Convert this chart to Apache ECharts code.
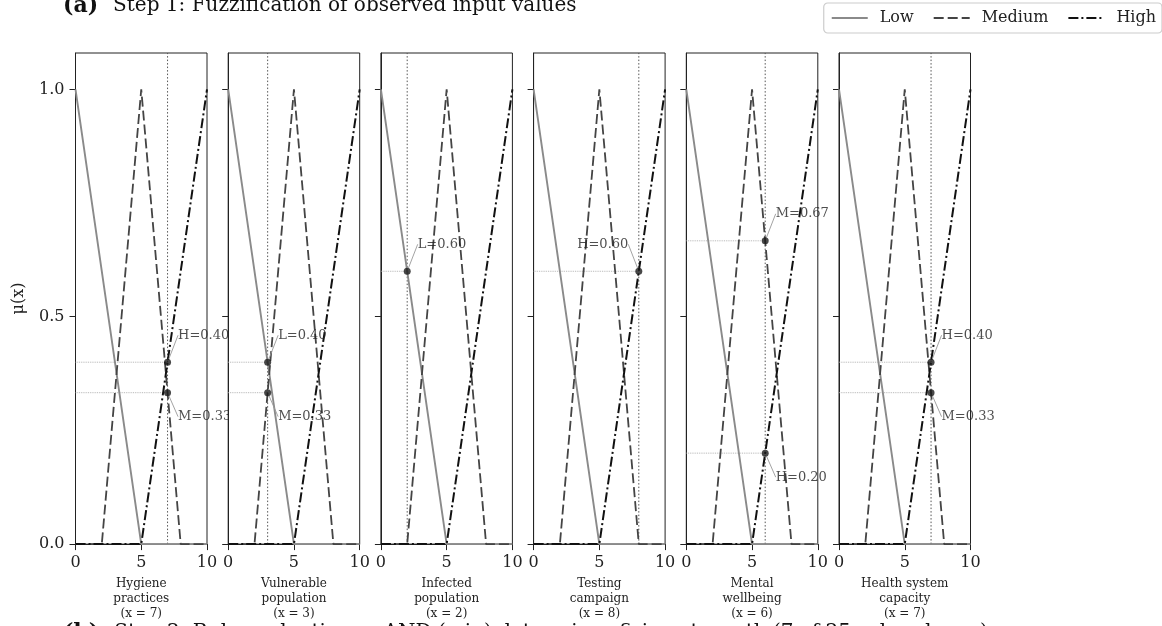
<!DOCTYPE html>
<html><head><meta charset="utf-8">
<script src="https://cdn.jsdelivr.net/npm/echarts@6/dist/echarts.min.js"></script>
<style>html,body{margin:0;padding:0;background:#fff}#c{width:1162px;height:626px}</style>
</head><body><div id="c"></div>
<script>
// ---- data ----
const variables = ['Hygiene\npractices', 'Vulnerable\npopulation', 'Infected\npopulation', 'Testing\ncampaign', 'Mental\nwellbeing', 'Health system\ncapacity'];
const observed = [7, 3, 2, 8, 6, 7];
const lowX = [0, 5, 10];
const lowY = [1, 0, 0];
const medX = [0, 2, 5, 8, 10];
const medY = [0, 0, 1, 0, 0];
const highX = [0, 5, 10];
const highY = [0, 0, 1];
const annTerms = [['H', 'M'], ['L', 'M'], ['L'], ['H'], ['M', 'H'], ['H', 'M']];
const annValues = [[0.40, 0.333], [0.40, 0.333], [0.60], [0.60], [0.667, 0.20], [0.40, 0.333]];
const xTicks = [0, 5, 10];
const yTicks = [0, 0.5, 1.0];
const yRange = [0, 1.08];
const legendNames = ['Low', 'Medium', 'High'];
const titleA = 'Step 1: Fuzzification of observed input values';
const titleB = 'Step 2: Rule evaluation — AND (min) determines firing strength (7 of 25 rules shown)';

// ---- layout / style ----
const FONT = 'DejaVu Serif';
const gridLeft0 = 75.5, gridStep = 152.7, gridW = 131.5, gridTop = 53, gridH = 492;
const styles = {
  Low: {color: '#8a8a8a', width: 1.9, type: 'solid'},
  Medium: {color: '#444', width: 1.8, type: [10, 4]},
  High: {color: '#111', width: 2, type: [10, 3, 2, 3]}
};
const curveData = {
  Low: lowX.map((x, k) => [x, lowY[k]]),
  Medium: medX.map((x, k) => [x, medY[k]]),
  High: highX.map((x, k) => [x, highY[k]])
};

const grids = [], xAxes = [], yAxes = [], series = [];
variables.forEach((v, i) => {
  const z = i + 1;
  grids.push({left: gridLeft0 + i * gridStep, top: gridTop, width: gridW, height: gridH,
    show: true, backgroundColor: '#fff', borderColor: '#222', borderWidth: 1, zlevel: z, containLabel: false});
  xAxes.push({type: 'value', gridIndex: i, min: 0, max: 10, interval: 5, zlevel: z,
    splitLine: {show: false},
    axisLine: {show: true, onZero: false, lineStyle: {color: '#222', width: 1}},
    axisTick: {show: true, inside: false, length: 6, customValues: xTicks, lineStyle: {color: '#222'}},
    axisLabel: {show: true, customValues: xTicks, margin: 11, fontFamily: FONT, fontSize: 16, color: '#222'},
    name: v + '\n(x = ' + observed[i] + ')', nameLocation: 'middle', nameGap: 31,
    nameTextStyle: {fontFamily: FONT, fontSize: 12, lineHeight: 15, color: '#222'}
  });
  yAxes.push({type: 'value', gridIndex: i, min: yRange[0], max: yRange[1], zlevel: z,
    splitLine: {show: false},
    axisLine: {show: true, onZero: false, lineStyle: {color: '#222', width: 1}},
    axisTick: {show: true, inside: false, length: 6, customValues: yTicks, lineStyle: {color: '#222'}},
    axisLabel: {show: i === 0, customValues: yTicks, margin: 11, fontFamily: FONT, fontSize: 16, color: '#222',
      formatter: val => val.toFixed(1)},
    name: i === 0 ? 'μ(x)' : '', nameLocation: 'middle', nameGap: 49,
    nameTextStyle: {fontFamily: FONT, fontSize: 16, color: '#222'}
  });
  const obs = observed[i];
  // vertical observation line
  series.push({name: 'obs' + i, type: 'line', xAxisIndex: i, yAxisIndex: i, zlevel: z, z: 2,
    data: [[obs, yRange[0]], [obs, yRange[1]]], symbol: 'none', silent: true, clip: false,
    lineStyle: {type: [1.5, 2], color: '#555', width: 1}});
  legendNames.forEach(n => {
    series.push({name: n, type: 'line', xAxisIndex: i, yAxisIndex: i, zlevel: z, z: 3,
      data: curveData[n], symbol: 'none', clip: false, silent: true,
      lineStyle: styles[n], itemStyle: {color: styles[n].color}});
  });
  const vals = annValues[i];
  vals.forEach((val, k) => {
    series.push({name: 'guide' + i + '_' + k, type: 'line', xAxisIndex: i, yAxisIndex: i, zlevel: z, z: 2,
      data: [[0, val], [obs, val]], symbol: 'none', silent: true, clip: false,
      lineStyle: {type: 'dotted', color: '#aaa', width: 0.9}});
  });
  const maxV = Math.max(...vals);
  const leftSide = obs >= 8;
  const offsets = vals.map(val => ({dx: leftSide ? -3 : 3, dy: val === maxV ? -27 : 24}));
  series.push({name: 'pts' + i, type: 'scatter', xAxisIndex: i, yAxisIndex: i, zlevel: z, z: 5,
    symbolSize: 7, itemStyle: {color: '#1a1a1a'}, silent: true,
    label: {show: true, position: leftSide ? 'left' : 'right', distance: 4,
      fontFamily: FONT, fontSize: 13, color: '#222',
      formatter: p => annTerms[i][p.dataIndex] + '=' + vals[p.dataIndex].toFixed(2)},
    labelLine: {show: true, lineStyle: {color: '#999', width: 0.9}},
    labelLayout: p => offsets[p.dataIndex],
    data: vals.map(val => [obs, val])
  });
});

const option = {
  backgroundColor: '#fff',
  animation: false,
  grid: grids, xAxis: xAxes, yAxis: yAxes, series: series,
  legend: {data: legendNames, right: 0, top: 3, itemWidth: 36, itemHeight: 14, itemGap: 19,
    padding: [7, 6, 7, 7], borderColor: '#ccc', borderWidth: 1.2, borderRadius: 4, backgroundColor: '#fff',
    itemStyle: {opacity: 0},
    textStyle: {fontFamily: FONT, fontSize: 16, color: '#222', padding: [0, 0, 0, 7]}},
  graphic: [
    {type: 'text', left: 63, top: -5, silent: true,
      style: {text: '{b|(a)}{n|' + titleA + '}', rich: {
        b: {fontFamily: FONT, fontWeight: 'bold', fontSize: 22, fill: '#111'},
        n: {fontFamily: FONT, fontSize: 20, fill: '#111', padding: [0, 0, 0, 15]}}}},
    {type: 'text', left: 63, top: 622, silent: true,
      style: {text: '{b|(b)}{n|' + titleB + '}', rich: {
        b: {fontFamily: FONT, fontWeight: 'bold', fontSize: 22, fill: '#111'},
        n: {fontFamily: FONT, fontSize: 20, fill: '#111', padding: [0, 0, 0, 15]}}}}
  ]
};
const chart = echarts.init(document.getElementById('c'), null, {renderer: 'canvas'});
chart.setOption(option);
</script></body></html>
